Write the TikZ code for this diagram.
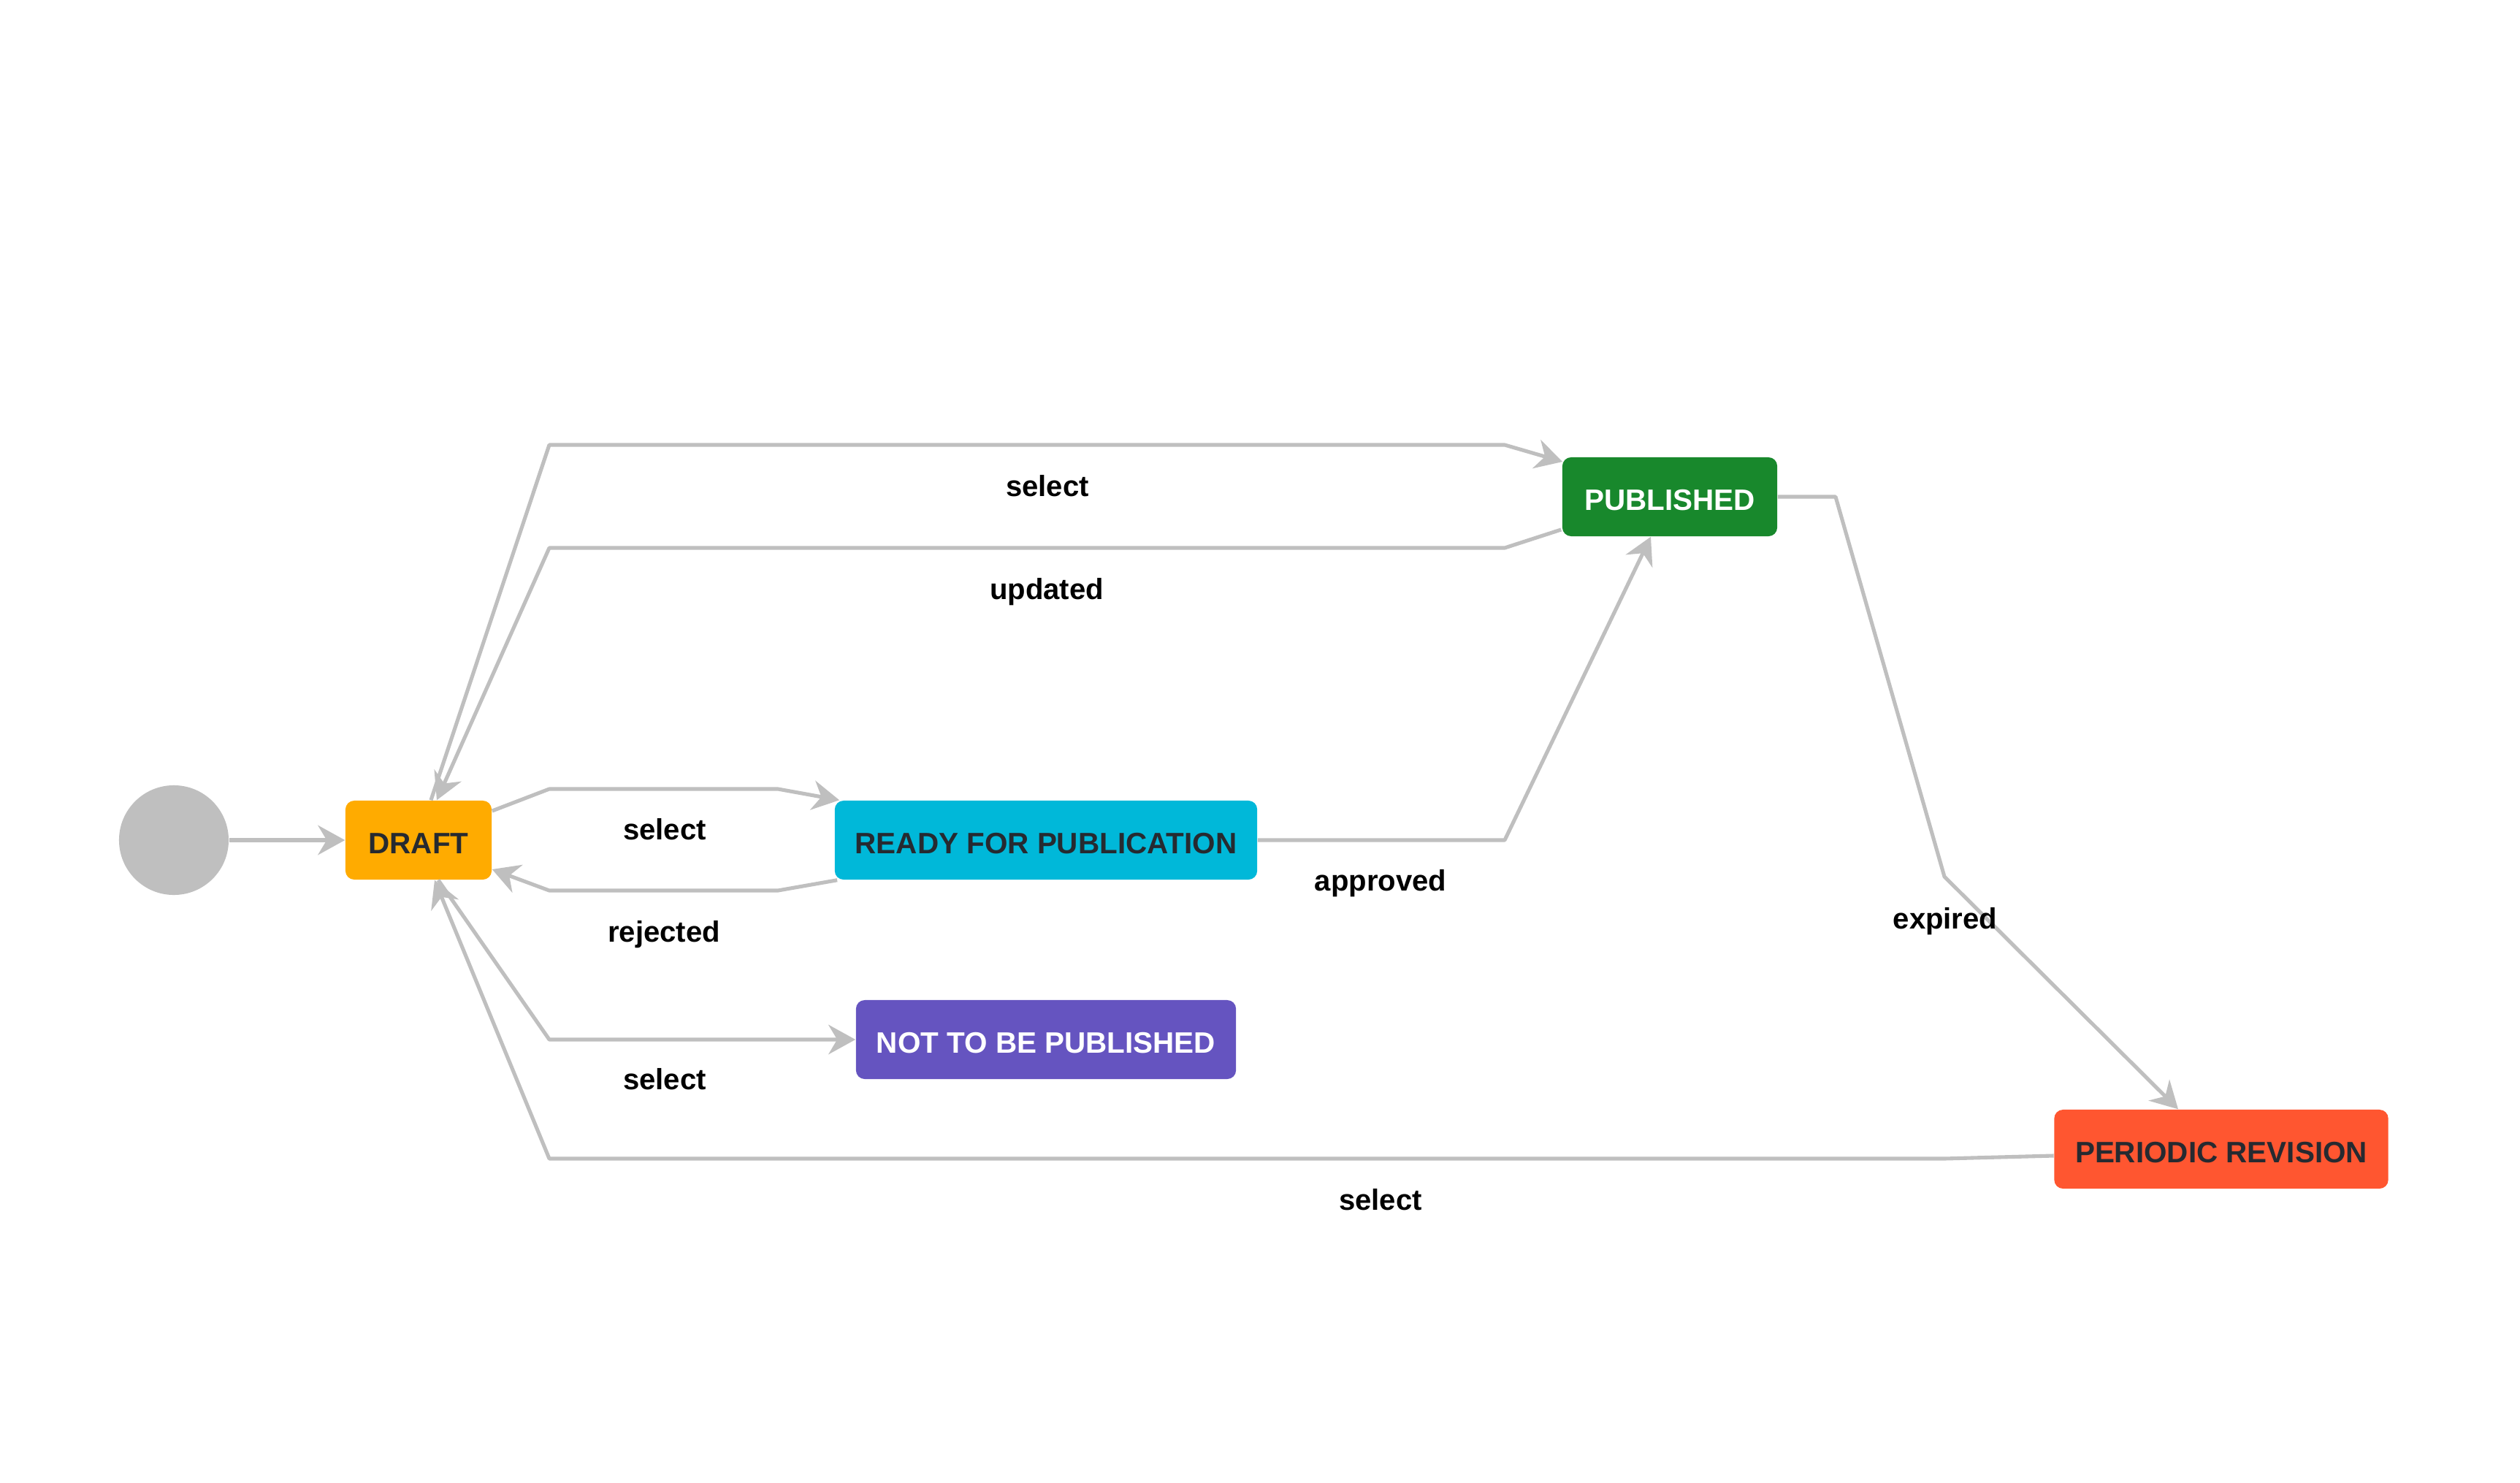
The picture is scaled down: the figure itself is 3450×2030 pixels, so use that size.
\documentclass[tikz,border=0pt]{standalone}
\usepackage{fontspec}
\setmainfont{Liberation Sans}
\usetikzlibrary{arrows.meta,calc}
\definecolor{edgegray}{RGB}{191,191,191}
\definecolor{draftc}{RGB}{255,171,0}
\definecolor{readyc}{RGB}{0,184,217}
\definecolor{pubc}{RGB}{24,136,44}
\definecolor{notc}{RGB}{101,84,192}
\definecolor{revc}{RGB}{255,86,48}
\definecolor{darktxt}{RGB}{38,42,48}
\newcommand{\stxt}[1]{\raisebox{-1.2pt}[\height][0pt]{#1}}
\tikzset{
  statebox/.style={rectangle, rounded corners=0.12cm, inner sep=0pt, minimum height=1.08cm,
    font=\fontsize{11.5pt}{13pt}\selectfont\bfseries},
  lbl/.style={inner sep=0pt, font=\fontsize{11.4pt}{13pt}\selectfont\bfseries, text=black},
  edge/.style={draw=edgegray, line width=1.45pt, line join=round,
    -{Stealth[length=10.5pt,width=11.5pt,inset=3.4pt]}}
}
\begin{document}
\begin{tikzpicture}[x=0.01cm,y=-0.01cm]
\useasboundingbox (0,0) rectangle (3450,2030);
\fill[white] (0,0) rectangle (3450,2030);

% nodes
\node[circle, fill=edgegray, minimum size=1.5cm, inner sep=0pt] (start) at (238,1150) {};
\node[statebox, fill=draftc, text=darktxt, minimum width=2.0cm] (draft) at (573,1150) {\stxt{DRAFT}};
\node[statebox, fill=readyc, text=darktxt, minimum width=5.78cm] (ready) at (1432,1150) {\stxt{READY FOR PUBLICATION}};
\node[statebox, fill=pubc, text=white, minimum width=2.94cm] (pub) at (2286,680) {\stxt{PUBLISHED}};
\node[statebox, fill=notc, text=white, minimum width=5.2cm] (notpub) at (1432,1423) {\stxt{NOT TO BE PUBLISHED}};
\node[statebox, fill=revc, text=darktxt, minimum width=4.57cm] (rev) at (3041,1573) {\stxt{PERIODIC REVISION}};

% connectors
\draw[edge] (start.east) -- (draft.west);
% DRAFT -> PUBLISHED (select)
\draw[edge] ($(draft.north)+(17,0)$) -- (752,609) -- (2060,609) -- ($(pub.west)+(1,-48)$);
% PUBLISHED -> DRAFT (updated)
\draw[edge] ($(pub.west)+(-1,45)$) -- (2060,750) -- (752,750) -- ($(draft.north)+(25,0)$);
% DRAFT -> READY (select)
\draw[edge] ($(draft.east)+(0,-40)$) -- (752,1080) -- (1065,1080) -- ($(ready.north west)+(7,0)$);
% READY -> DRAFT (rejected)
\draw[edge] ($(ready.south west)+(4,0)$) -- (1065,1219) -- (752,1219) -- ($(draft.east)+(0,40)$);
% READY -> PUBLISHED (approved)
\draw[edge] (ready.east) -- (2060,1150) -- ($(pub.south)+(-26,0)$);
% DRAFT -> NOT TO BE PUBLISHED (select)
\draw[edge] ($(draft.south)+(27,0)$) -- (752,1423) -- (notpub.west);
% PUBLISHED -> PERIODIC REVISION (expired)
\draw[edge] (pub.east) -- (2513,680) -- (2662,1200) -- ($(rev.north)+(-59,0)$);
% PERIODIC REVISION -> DRAFT (select)
\draw[edge] ($(rev.west)+(0,9)$) -- (2662,1586) -- (752,1586) -- ($(draft.south)+(22,0)$);

% labels
\node[lbl] (l1) at (1434,665) {select};
\node[lbl] (l2) at (1433,810) {updated};
\node[lbl] (l3) at (910,1135) {select};
\node[lbl] (l4) at (909,1279) {rejected};
\node[lbl] (l5) at (1890,1209) {approved};
\node[lbl] (l6) at (910,1477) {select};
\node[lbl] (l7) at (2663,1261) {expired};
\node[lbl] (l8) at (1890,1642) {select};
\end{tikzpicture}
\end{document}
